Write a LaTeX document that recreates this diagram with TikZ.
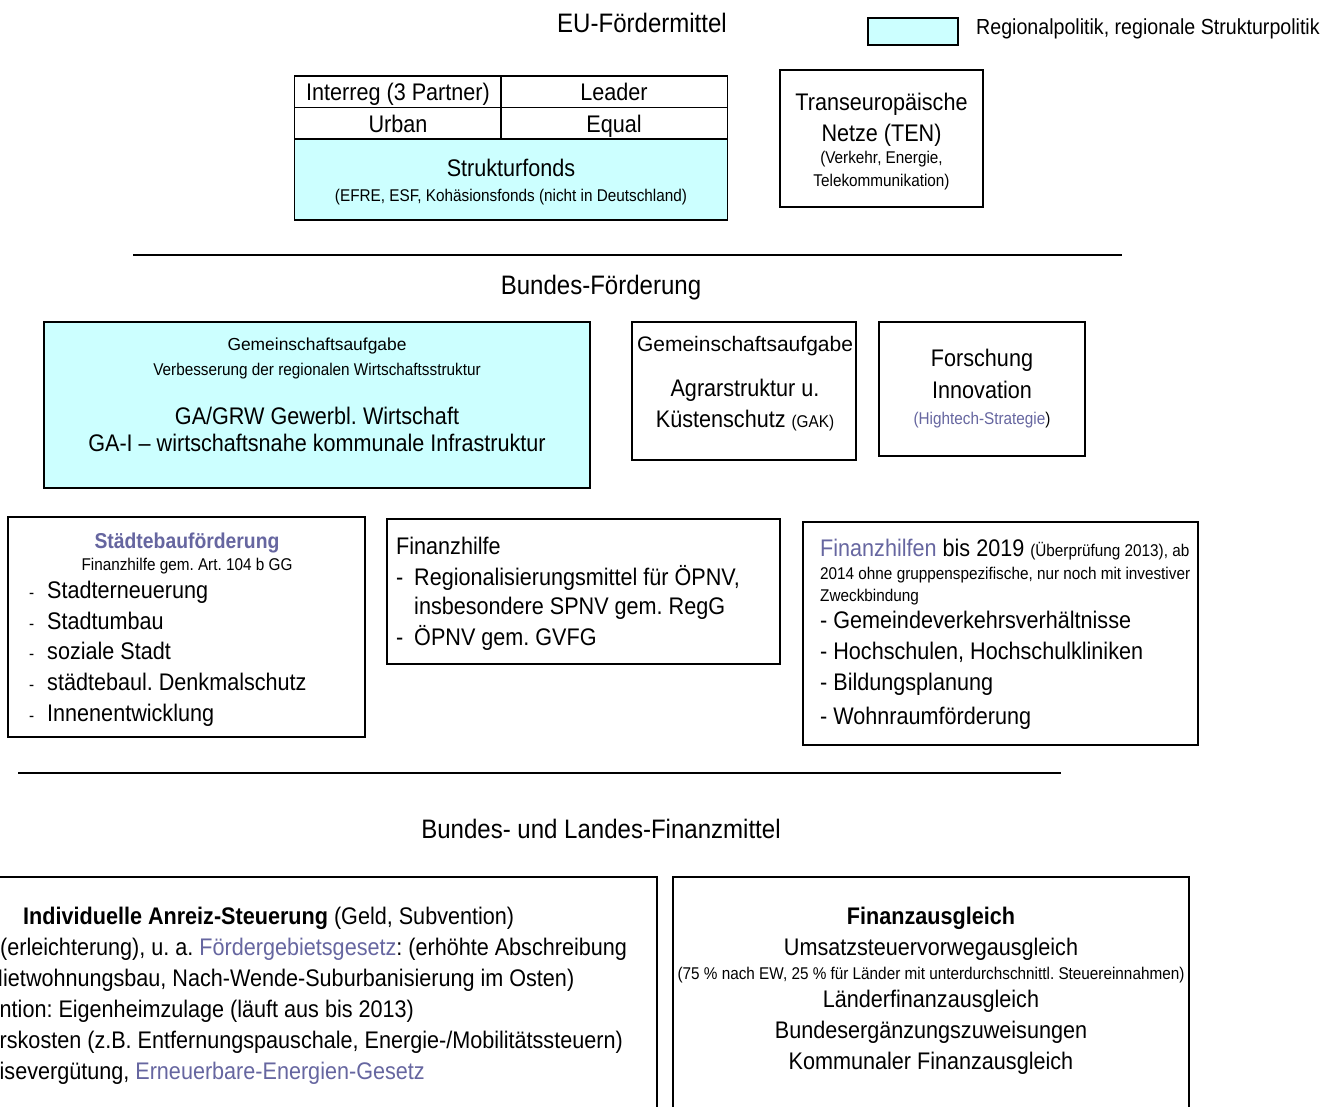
\documentclass[tikz,border=0pt]{standalone}
\usepackage{fontspec}
\setmainfont{Liberation Sans}[FakeStretch=0.9]
\newfontfamily\widefont{Liberation Sans}
\definecolor{cyanfill}{HTML}{CCFFFF}
\definecolor{linkblue}{HTML}{6666A0}
\newcommand{\fsz}[1]{\fontsize{#1}{#1}\selectfont}
\frenchspacing
\begin{document}
\begin{tikzpicture}[x=1pt,y=-1pt,
  box/.style={draw=black,line width=1.6pt,inner sep=0pt,outer sep=0pt,anchor=north west},
  cbox/.style={box,fill=cyanfill},
  txt/.style={inner sep=0pt,anchor=base},
  txtl/.style={inner sep=0pt,anchor=base west},
  txtr/.style={inner sep=0pt,anchor=base east},
  big/.style={font=\fsz{24}},
  small/.style={font=\fsz{17}},
  sect/.style={font=\fsz{26.7}},
  sep/.style={line width=1.3pt}]
\useasboundingbox (0,0) rectangle (1336,1107);
\clip (0,0) rectangle (1336,1107);
\fill[white] (0,0) rectangle (1336,1107);

% ---------- EU ----------
\node[txt,sect] (eutitle) at (642,33) {EU-Fördermittel};
\node[cbox,minimum width=90,minimum height=27] (legbox) at (868,18) {};
\node[txtl,font=\fsz{21.8}] (legtext) at (976,35) {Regionalpolitik, regionale Strukturpolitik};

\node[box,minimum width=206.5,minimum height=31.5] (c11) at (294.5,76) {};
\node[box,minimum width=226.5,minimum height=31.5] (c12) at (501,76) {};
\node[box,minimum width=206.5,minimum height=31.5] (c21) at (294.5,107.5) {};
\node[box,minimum width=226.5,minimum height=31.5] (c22) at (501,107.5) {};
\node[cbox,minimum width=433,minimum height=81] (c3) at (294.5,139) {};
\node[txt,big] (t11) at (398,101) {Interreg (3 Partner)};
\node[txt,big] (t12) at (614,101) {Leader};
\node[txt,big] (t21) at (398,132.5) {Urban};
\node[txt,big] (t22) at (614,132.5) {Equal};
\node[txt,big] (t31) at (511,177) {Strukturfonds};
\node[txt,small] (t32) at (511,202) {(EFRE, ESF, Kohäsionsfonds (nicht in Deutschland)};

\node[box,minimum width=203,minimum height=137] (ten) at (780,70) {};
\node[txt,big] (ten1) at (881.5,110.5) {Transeuropäische};
\node[txt,big] (ten2) at (881.5,141.5) {Netze (TEN)};
\node[txt,small] (ten3) at (881.5,164) {(Verkehr, Energie,};
\node[txt,small] (ten4) at (881.5,187) {Telekommunikation)};

\coordinate (s1a) at (133,255);
\coordinate (s1b) at (1122,255);
\draw[sep] (s1a) -- (s1b);

% ---------- Bund ----------
\node[txt,sect] (bundtitle) at (601,294.5) {Bundes-Förderung};

\node[cbox,minimum width=546,minimum height=166] (ga) at (44,322) {};
\node[txt,font=\widefont\fsz{17.4}] (ga1) at (317,350.5) {Gemeinschaftsaufgabe};
\node[txt,small] (ga2) at (317,375) {Verbesserung der regionalen Wirtschaftsstruktur};
\node[txt,big] (ga3) at (317,424.5) {GA/GRW Gewerbl. Wirtschaft};
\node[txt,big] (ga4) at (317,451.5) {GA-I – wirtschaftsnahe kommunale Infrastruktur};

\node[box,minimum width=224,minimum height=138] (gak) at (632,322) {};
\node[txt,font=\widefont\fsz{21}] (gak1) at (745,351.5) {Gemeinschaftsaufgabe};
\node[txt,big] (gak2) at (745,396.5) {Agrarstruktur u.};
\node[txt,big] (gak3) at (745,427.5) {Küstenschutz {\fsz{17}(GAK)}};

\node[box,minimum width=206,minimum height=134] (fo) at (879,322) {};
\node[txt,big] (fo1) at (982,366.5) {Forschung};
\node[txt,big] (fo2) at (982,398.5) {Innovation};
\node[txt,small] (fo3) at (982,424) {{\color{linkblue}(Hightech-Strategie})};

\node[box,minimum width=357,minimum height=220] (st) at (8,517) {};
\node[txt,font=\bfseries\fsz{21.5},text=linkblue] (st0) at (187,548) {Städtebauförderung};
\node[txt,small] (st1) at (187,570) {Finanzhilfe gem. Art. 104 b GG};
\node[txtl,small] (std1) at (29,598.5) {-};
\node[txtl,big] (st2) at (47,598.5) {Stadterneuerung};
\node[txtl,small] (std2) at (29,629.5) {-};
\node[txtl,big] (st3) at (47,629.5) {Stadtumbau};
\node[txtl,small] (std3) at (29,659.5) {-};
\node[txtl,big] (st4) at (47,659.5) {soziale Stadt};
\node[txtl,small] (std4) at (29,690.5) {-};
\node[txtl,big] (st5) at (47,690.5) {städtebaul. Denkmalschutz};
\node[txtl,small] (std5) at (29,721.5) {-};
\node[txtl,big] (st6) at (47,721.5) {Innenentwicklung};

\node[box,minimum width=393,minimum height=145] (fh) at (387,519) {};
\node[txtl,big] (fh1) at (396,554.5) {Finanzhilfe};
\node[txtl,big] (fhd1) at (396,585.5) {-};
\node[txtl,big] (fh2) at (414,585.5) {Regionalisierungsmittel für ÖPNV,};
\node[txtl,big] (fh3) at (414,614.5) {insbesondere SPNV gem. RegG};
\node[txtl,big] (fhd2) at (396,645.5) {-};
\node[txtl,big] (fh4) at (414,645.5) {ÖPNV gem. GVFG};

\node[box,minimum width=395,minimum height=223] (fn) at (803,522) {};
\node[txtl,big] (fn1) at (820,556.5) {{\color{linkblue}Finanzhilfen} bis 2019 {\fsz{17}(Überprüfung 2013), ab}};
\node[txtl,small] (fn2) at (820,579) {2014 ohne gruppenspezifische, nur noch mit investiver};
\node[txtl,small] (fn3) at (820,601) {Zweckbindung};
\node[txtl,big] (fn4) at (820,628.5) {- Gemeindeverkehrsverhältnisse};
\node[txtl,big] (fn5) at (820,659.5) {- Hochschulen, Hochschulkliniken};
\node[txtl,big] (fn6) at (820,690.5) {- Bildungsplanung};
\node[txtl,big] (fn7) at (820,724.5) {- Wohnraumförderung};

\coordinate (s2a) at (18,773);
\coordinate (s2b) at (1061,773);
\draw[sep] (s2a) -- (s2b);

% ---------- Bund und Land ----------
\node[txt,sect] (bltitle) at (601,838.5) {Bundes- und Landes-Finanzmittel};

\node[box,anchor=north east,minimum width=680,minimum height=260] (ia) at (657,877) {};
\node[txtl,big] (ia1) at (23,924.5) {\textbf{Individuelle Anreiz-Steuerung} (Geld, Subvention)};
\node[txtl,big] (ia2) at (0,955.5) {(erleichterung), u. a. {\color{linkblue}Fördergebietsgesetz}: (erhöhte Abschreibung};
\node[txtl,big] (ia3) at (-15,986.5) {Mietwohnungsbau, Nach-Wende-Suburbanisierung im Osten)};
\node[txtl,big] (ia4) at (-0.5,1017.5) {ntion: Eigenheimzulage (läuft aus bis 2013)};
\node[txtl,big] (ia5) at (-0.5,1048.5) {rskosten (z.B. Entfernungspauschale, Energie-/Mobilitätssteuern)};
\node[txtl,big] (ia6) at (-0.5,1079.5) {isevergütung, {\color{linkblue}Erneuerbare-Energien-Gesetz}};

\node[box,minimum width=516,minimum height=260] (fa) at (673,877) {};
\node[txt,font=\bfseries\fsz{24}] (fa1) at (931,924.5) {Finanzausgleich};
\node[txt,big] (fa2) at (931,955.5) {Umsatzsteuervorwegausgleich};
\node[txt,small] (fa3) at (931,979) {(75 \% nach EW, 25 \% für Länder mit unterdurchschnittl. Steuereinnahmen)};
\node[txt,big] (fa4) at (931,1007.5) {Länderfinanzausgleich};
\node[txt,big] (fa5) at (931,1038.5) {Bundesergänzungszuweisungen};
\node[txt,big] (fa6) at (931,1069.5) {Kommunaler Finanzausgleich};
\end{tikzpicture}
\end{document}
